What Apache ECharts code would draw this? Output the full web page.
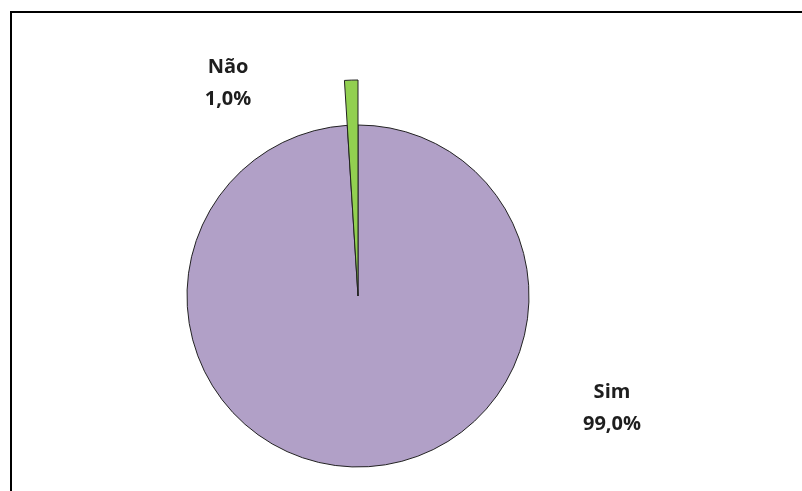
<!DOCTYPE html>
<html>
<head>
<meta charset="utf-8">
<script src="https://cdn.jsdelivr.net/npm/echarts@6/dist/echarts.min.js"></script>
<style>
  html, body { margin: 0; padding: 0; background: #ffffff; }
  #chart { width: 802px; height: 491px; }
</style>
</head>
<body>
<div id="chart"></div>
<script>
// Respostas: Não / Sim
const categories = ['Não', 'Sim'];
const values = [1, 99];
const colors = ['#92D050', '#B1A0C7'];

// Label anchor points (centre of each two-line label)
const labelAnchors = [[228, 83], [612, 408]];

const chart = echarts.init(document.getElementById('chart'), null, { renderer: 'canvas' });

const pieData = categories.map((name, i) => ({
  name: name,
  value: values[i],
  itemStyle: { color: colors[i] }
}));

// The "Não" slice is pulled out as a longer wedge drawn on top
const pulledData = categories.map((name, i) => ({
  name: name,
  value: values[i],
  itemStyle: i === 0 ? { color: colors[i] } : { color: 'rgba(0,0,0,0)', borderWidth: 0 },
  label: { show: false }
}));

const fmt = p => p.name + '\n' + p.percent.toFixed(1).replace('.', ',') + '%';

chart.setOption({
  backgroundColor: '#ffffff',
  animation: false,
  graphic: [{
    type: 'polyline',
    shape: { points: [[11, 491], [11, 12], [802, 12]] },
    style: { stroke: '#000000', lineWidth: 2, fill: null },
    silent: true
  }],
  series: [
    {
      type: 'pie',
      center: [358, 296],
      radius: 171,
      startAngle: 90,
      clockwise: false,
      percentPrecision: 1,
      avoidLabelOverlap: false,
      itemStyle: { borderColor: '#222222', borderWidth: 1 },
      label: {
        show: true,
        position: 'outside',
        formatter: fmt,
        fontFamily: 'Open Sans',
        fontWeight: 'bold',
        fontSize: 20,
        lineHeight: 32,
        color: '#1e1e1e',
        align: 'center'
      },
      labelLine: { show: false },
      labelLayout: params => ({
        x: labelAnchors[params.dataIndex][0],
        y: labelAnchors[params.dataIndex][1],
        align: 'center',
        verticalAlign: 'middle'
      }),
      emphasis: { disabled: true },
      data: pieData
    },
    {
      type: 'pie',
      center: [358, 296],
      radius: 216,
      startAngle: 90,
      clockwise: false,
      percentPrecision: 1,
      silent: true,
      itemStyle: { borderColor: '#222222', borderWidth: 1 },
      label: { show: false },
      labelLine: { show: false },
      emphasis: { disabled: true },
      data: pulledData
    }
  ]
});
</script>
</body>
</html>
